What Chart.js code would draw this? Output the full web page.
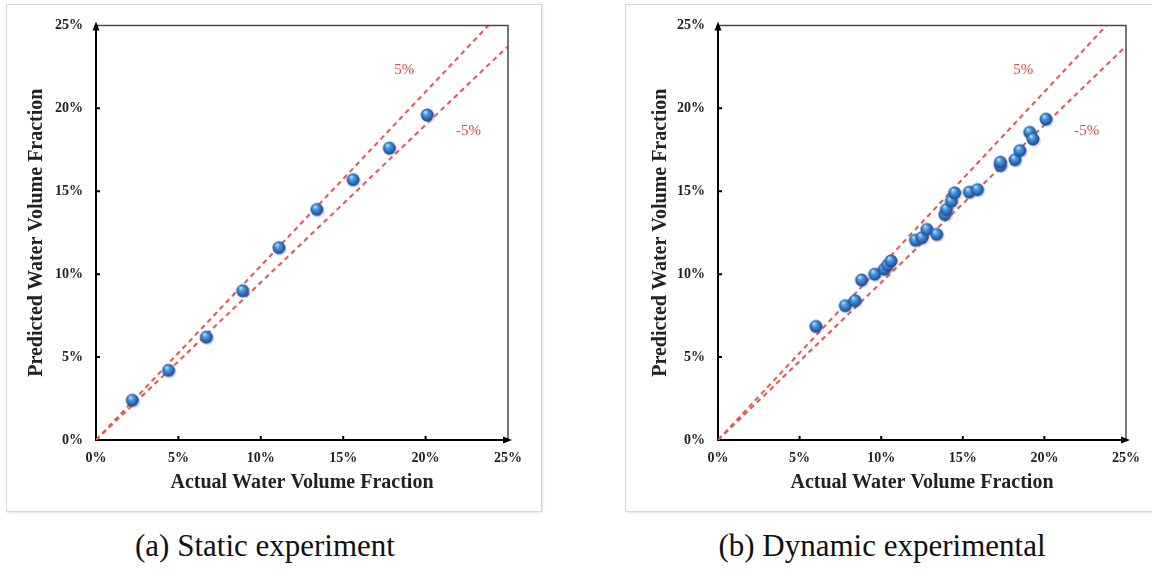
<!DOCTYPE html>
<html>
<head>
<meta charset="utf-8">
<script src="https://cdn.jsdelivr.net/npm/chart.js@4/dist/chart.umd.min.js"></script>
<style>
  body { margin:0; background:#fff; width:1152px; height:578px; position:relative; overflow:hidden; font-family:'Liberation Serif','Times New Roman',serif; }
  .frame { position:absolute; border:1px solid #d6d6d6; box-shadow:1px 1px 2px rgba(0,0,0,0.12); background:#fff; }
  canvas { position:absolute; }
  .cap { position:absolute; font-size:31px; color:#111; text-align:center; white-space:nowrap; }
</style>
</head>
<body>
<div class="frame" style="left:6px;top:4px;width:534px;height:506px"></div>
<div class="frame" style="left:625px;top:4px;width:540px;height:506px"></div>
<canvas id="staticChart" width="535" height="507" style="left:6px;top:4px"></canvas>
<canvas id="dynChart" width="527" height="507" style="left:625px;top:4px"></canvas>
<div class="cap" style="left:65px;width:400px;top:528px">(a) Static experiment</div>
<div class="cap" style="left:682px;width:400px;top:528px">(b) Dynamic experimental</div>

<script>
// ── DATA (percent) ───────────────────────────────────────────────
const staticActual = [2.2, 4.4, 6.7, 8.9, 11.1, 13.4, 15.6, 17.8, 20.1];
const staticPred   = [2.4, 4.2, 6.2, 9.0, 11.6, 13.9, 15.7, 17.6, 19.6];

const dynActual = [6.0, 7.8, 8.4, 8.8, 9.6, 10.2, 10.4, 10.6, 12.1, 12.5, 12.8, 13.4, 13.9, 14.0,
                   14.3, 14.5, 15.4, 15.9, 17.3, 17.3, 18.2, 18.5, 19.1, 19.3, 20.1];
const dynPred   = [6.85, 8.1, 8.4, 9.65, 10.0, 10.3, 10.55, 10.8, 12.05, 12.2, 12.7, 12.4, 13.6, 13.9,
                   14.4, 14.9, 14.95, 15.1, 16.55, 16.75, 16.9, 17.45, 18.55, 18.15, 19.35];

// ±5% reference lines (end points)
const upperX = [0, 23.81], upperY = [0, 25];
const lowerX = [0, 25],    lowerY = [0, 23.75];

// line labels
const lineLabels = ['5%', '-5%'];
const labelX = [18.7, 22.6];
const labelY = [22.3, 18.6];

const tickVals = [0, 5, 10, 15, 20, 25];

// ── blue sphere marker ───────────────────────────────────────────
function sphere() {
  const c = document.createElement('canvas');
  c.width = 18; c.height = 18;
  const g = c.getContext('2d');
  g.fillStyle = 'rgba(120,120,120,0.25)';
  g.beginPath(); g.ellipse(10, 11, 7, 6, 0, 0, Math.PI*2); g.fill();
  const rg = g.createRadialGradient(7, 6, 0.5, 9, 9, 7);
  rg.addColorStop(0, '#b8dcf7');
  rg.addColorStop(0.3, '#4b9be0');
  rg.addColorStop(0.75, '#2560b0');
  rg.addColorStop(1, '#1b3c7a');
  g.fillStyle = rg;
  g.beginPath(); g.arc(9, 9, 6.5, 0, Math.PI*2); g.fill();
  return c;
}
const ball = sphere();

// axes decorations: frame, inner ticks, arrows, line labels
const decor = {
  id: 'decor',
  afterDatasetsDraw(chart) {
    const {ctx, chartArea:a, scales:{x, y}} = chart;
    ctx.save();
    ctx.strokeStyle = '#4a4a4a'; ctx.lineWidth = 1.5;
    ctx.beginPath();
    ctx.moveTo(a.left, a.top); ctx.lineTo(a.right, a.top); ctx.lineTo(a.right, a.bottom);
    ctx.stroke();
    ctx.strokeStyle = '#000'; ctx.lineWidth = 2;
    ctx.beginPath();
    tickVals.slice(1, -1).forEach(v => {
      const px = x.getPixelForValue(v), py = y.getPixelForValue(v);
      ctx.moveTo(px, a.bottom); ctx.lineTo(px, a.bottom - 4);
      ctx.moveTo(a.left, py); ctx.lineTo(a.left + 4, py);
    });
    ctx.stroke();
    ctx.fillStyle = '#000';
    ctx.beginPath();
    ctx.moveTo(a.left, a.top - 4); ctx.lineTo(a.left - 3.5, a.top + 5); ctx.lineTo(a.left + 3.5, a.top + 5);
    ctx.closePath(); ctx.fill();
    ctx.beginPath();
    ctx.moveTo(a.right + 4, a.bottom); ctx.lineTo(a.right - 5, a.bottom - 3.5); ctx.lineTo(a.right - 5, a.bottom + 3.5);
    ctx.closePath(); ctx.fill();
    ctx.fillStyle = '#e0463f';
    ctx.font = '15px "Liberation Serif", serif';
    ctx.textAlign = 'center'; ctx.textBaseline = 'middle';
    lineLabels.forEach((t, i) => ctx.fillText(t, x.getPixelForValue(labelX[i]), y.getPixelForValue(labelY[i])));
    ctx.restore();
  }
};

const tickFont  = { family:'"Liberation Serif", serif', size:14, weight:'bold' };
const titleFont = { family:'"Liberation Serif", serif', size:20, weight:'bold' };

function makeChart(id, xs, ys, yW, padR, yTitlePad) {
  const pts = xs.map((v, i) => ({ x:v, y:ys[i] }));
  const line = (X, Y) => X.map((v, i) => ({ x:v, y:Y[i] }));
  const dash = { type:'scatter', showLine:true, pointRadius:0, borderColor:'#e6554f', borderWidth:2, borderDash:[5,4], fill:false };
  return new Chart(document.getElementById(id), {
    type:'scatter',
    data:{ datasets:[
      { data:pts, pointStyle:ball, pointRadius:7, pointHoverRadius:7 },
      { ...dash, data:line(upperX, upperY) },
      { ...dash, data:line(lowerX, lowerY) }
    ]},
    options:{
      responsive:false, animation:false, devicePixelRatio:1,
      layout:{ padding:{ left:0, top:16, right:padR, bottom:0 } },
      plugins:{ legend:{ display:false }, tooltip:{ enabled:false } },
      scales:{
        x:{ type:'linear', min:0, max:25, afterFit:s => { s.height = 71; },
            afterBuildTicks:s => { s.ticks = tickVals.map(v => ({ value:v })); },
            ticks:{ callback:v => v + '%', font:tickFont, color:'#222', padding:10, maxRotation:0 },
            grid:{ display:false, drawTicks:false }, border:{ color:'#000', width:2 },
            title:{ display:true, text:'Actual Water Volume Fraction', font:titleFont, color:'#222', padding:{ top:0, bottom:16 } } },
        y:{ type:'linear', min:0, max:25, afterFit:s => { s.width = yW; },
            afterBuildTicks:s => { s.ticks = tickVals.map(v => ({ value:v })); },
            ticks:{ callback:v => v + '%', font:tickFont, color:'#222', padding:13 },
            grid:{ display:false, drawTicks:false }, border:{ color:'#000', width:2 },
            title:{ display:true, text:'Predicted Water Volume Fraction', font:titleFont, color:'#222', padding:{ top:yTitlePad, bottom:0 } } }
      }
    },
    plugins:[decor]
  });
}

makeChart('staticChart', staticActual, staticPred, 90, 33, 19);
makeChart('dynChart', dynActual, dynPred, 93, 26, 24);
</script>
</body>
</html>
